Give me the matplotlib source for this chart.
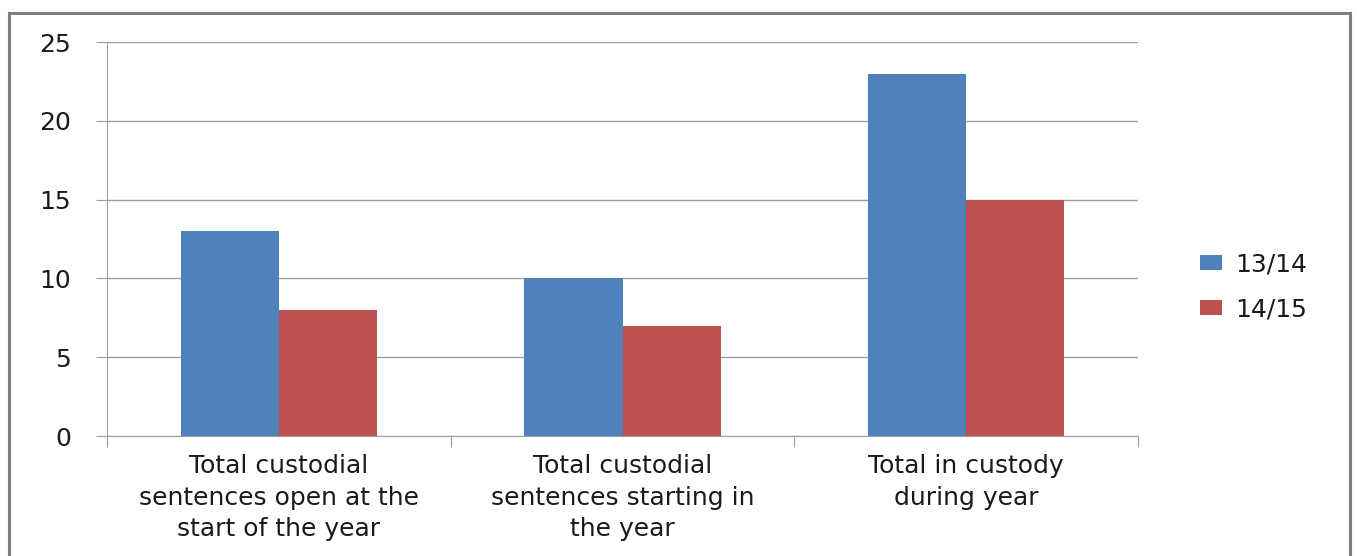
import matplotlib
matplotlib.use("Agg")
import matplotlib.pyplot as plt
from matplotlib.patches import Rectangle
import numpy as np

categories = ["Total custodial\nsentences open at the\nstart of the year",
              "Total custodial\nsentences starting in\nthe year",
              "Total in custody\nduring year"]
series_names = ["13/14", "14/15"]
values_1314 = [13, 10, 23]
values_1415 = [8, 7, 15]
colors = ["#4F81BD", "#C0504D"]

fig = plt.figure(figsize=(13.57, 5.56), dpi=100)
fig.patches.append(Rectangle((9/1357, -0.05), (1350-9)/1357, 1 - 13/556 + 0.05,
                             transform=fig.transFigure, fill=False,
                             edgecolor="#808080", linewidth=2.2))
ax = fig.add_axes([107/1357, 1-436/556, (1138-107)/1357, (436-42)/556])

x = np.arange(len(categories))
w = 0.286
ax.bar(x - w/2, values_1314, w, color=colors[0], label=series_names[0], zorder=3)
ax.bar(x + w/2, values_1415, w, color=colors[1], label=series_names[1], zorder=3)

ax.set_xlim(-0.5, 2.5)
ax.set_ylim(0, 25)
ax.set_yticks([0, 5, 10, 15, 20, 25])
ax.yaxis.grid(True, color="#A0A0A0", linewidth=1.0, zorder=0)
for s in ["top", "right"]:
    ax.spines[s].set_visible(False)
ax.spines["left"].set_color("#A0A0A0")
ax.spines["bottom"].set_color("#A0A0A0")
ax.tick_params(axis="y", direction="out", length=8, color="#A0A0A0",
               labelsize=18, pad=18, labelcolor="#1a1a1a")
ax.set_xticks([-0.5, 0.5, 1.5, 2.5])
ax.set_xticklabels([])
ax.tick_params(axis="x", direction="out", length=8, color="#A0A0A0")
for i, c in enumerate(categories):
    ax.text(i, -1.15, c, ha="center", va="top", fontsize=18, color="#1a1a1a",
            linespacing=1.4, transform=ax.transData)

leg = fig.legend(loc="center left", bbox_to_anchor=(1177/1357, 1-287/556),
                 frameon=False, fontsize=18, handlelength=0.88, handleheight=0.56,
                 labelspacing=0.85, handletextpad=0.55)
for t in leg.get_texts():
    t.set_color("#1a1a1a")
fig.savefig("out.png", dpi=100)
